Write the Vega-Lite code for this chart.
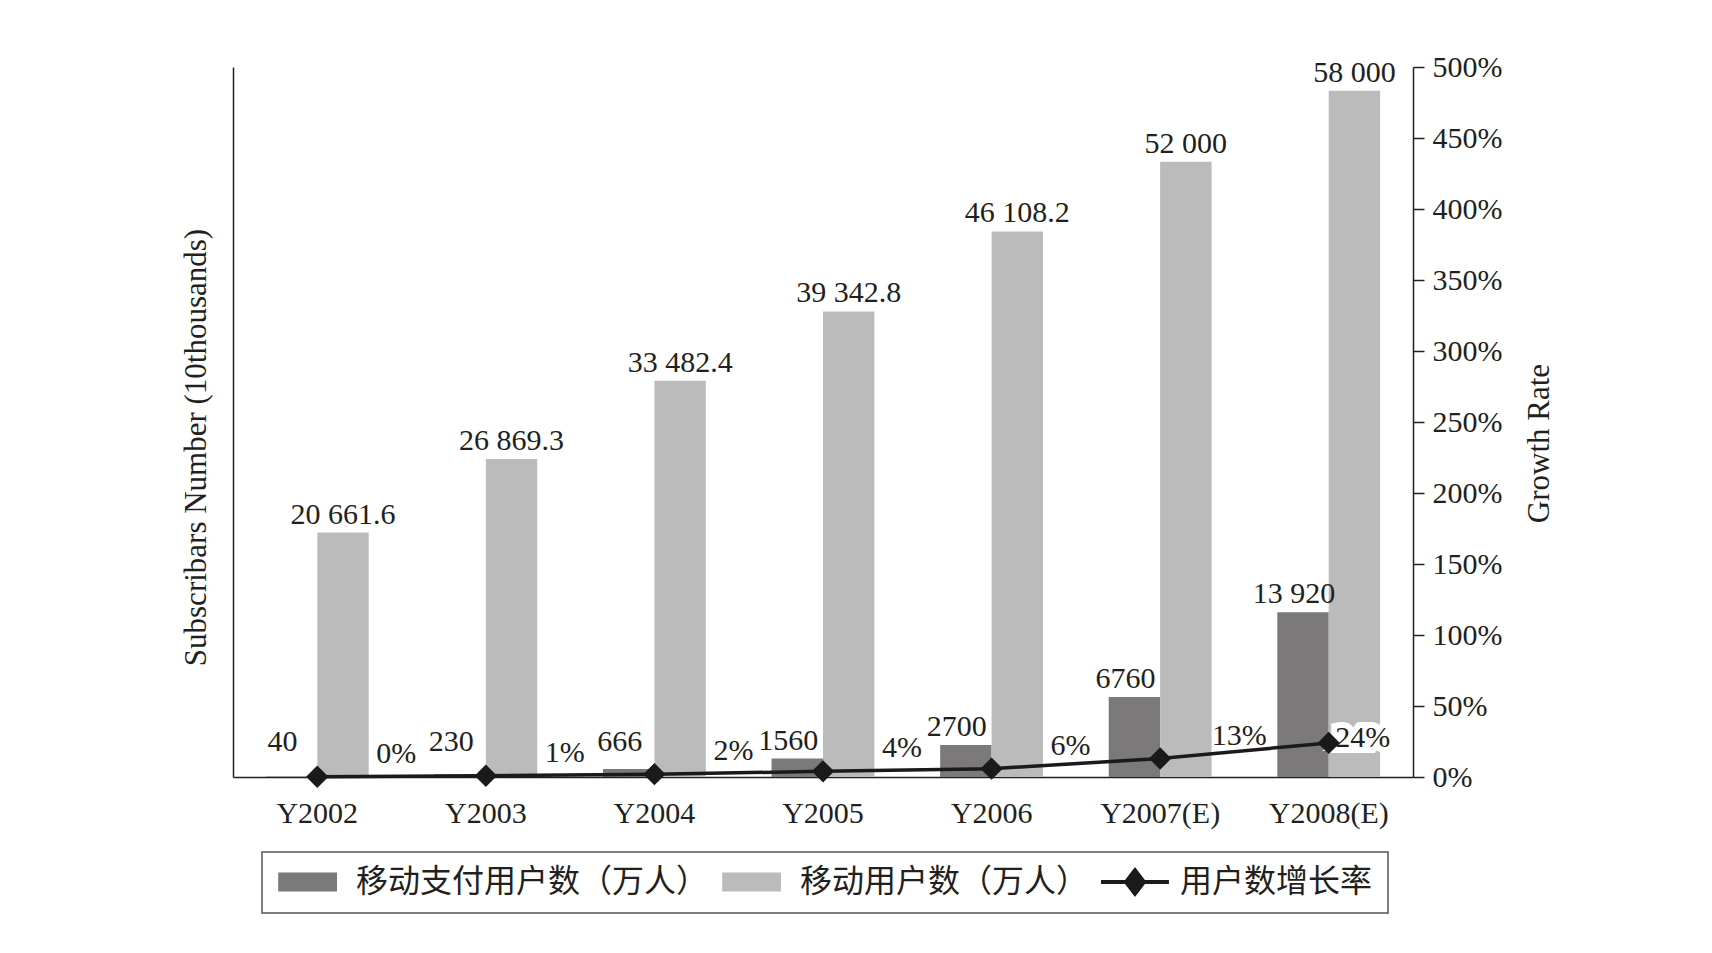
{
  "$schema": "https://vega.github.io/schema/vega-lite/v6.json",
  "width": 1180,
  "height": 710,
  "autosize": {"type": "none"},
  "padding": {"left": 233, "top": 67, "right": 299, "bottom": 176},
  "background": "white",
  "config": {
    "view": {"stroke": null},
    "font": "Liberation Serif",
    "axis": {
      "labelFont": "Liberation Serif", "titleFont": "Liberation Serif",
      "labelFontSize": 30, "titleFontSize": 31, "titleFontWeight": "normal",
      "labelColor": "#231f20", "titleColor": "#231f20",
      "domainColor": "#231f20", "tickColor": "#231f20",
      "domainWidth": 1.5, "tickWidth": 1.5, "grid": false
    },
    "legend": {
      "orient": "none", "legendX": 29, "legendY": 785,
      "direction": "horizontal", "columns": 3,
      "symbolSize": 6241, "clipHeight": 30,
      "labelFont": "Noto Sans CJK SC", "labelFontSize": 32, "labelColor": "#231f20",
      "labelOffset": 0, "labelLimit": 0, "columnPadding": 12, "padding": 15,
      "strokeColor": "#555555"
    }
  },
  "data": {"values": [
    {"year": "Y2002", "pay": 40, "mobile": 20661.6, "rate": 0.002},
    {"year": "Y2003", "pay": 230, "mobile": 26869.3, "rate": 0.0086},
    {"year": "Y2004", "pay": 666, "mobile": 33482.4, "rate": 0.0199},
    {"year": "Y2005", "pay": 1560, "mobile": 39342.8, "rate": 0.0397},
    {"year": "Y2006", "pay": 2700, "mobile": 46108.2, "rate": 0.0586},
    {"year": "Y2007(E)", "pay": 6760, "mobile": 52000, "rate": 0.13},
    {"year": "Y2008(E)", "pay": 13920, "mobile": 58000, "rate": 0.24}
  ]},
  "layer": [
    {
      "transform": [
        {"fold": ["pay", "mobile"], "as": ["series", "value"]},
        {"calculate": "datum.value >= 10000 ? replace(format(datum.value, ',~f'), ',', ' ') : format(datum.value, '~f')", "as": "lbl"}
      ],
      "encoding": {
        "x": {"field": "year", "type": "nominal", "sort": null,
              "scale": {"paddingInner": 0.39, "paddingOuter": 0.195},
              "axis": {"title": null, "ticks": false, "labelAngle": 0, "labelPadding": 21, "labelBaseline": "top"}},
        "xOffset": {"field": "series", "type": "nominal",
                    "scale": {"domain": ["pay", "mobile"], "paddingInner": 0, "paddingOuter": 0}}
      },
      "layer": [
        {
          "mark": {"type": "bar"},
          "encoding": {
            "y": {"field": "value", "type": "quantitative", "scale": {"domain": [0, 60000]},
                  "axis": {"orient": "left", "title": "Subscribars Number (10thousands)", "labels": false, "ticks": false,
                           "titleAngle": 270, "titleX": -37, "titleY": 380, "titleBaseline": "middle", "titleAlign": "center"}},
            "color": {"field": "series", "type": "nominal",
                      "scale": {"domain": ["pay", "mobile", "rate"], "range": ["#7b7979", "#bcbbbb", "#1a1a1a"]},
                      "legend": {
                        "title": null,
                        "labelExpr": "datum.value == 'pay' ? '移动支付用户数（万人）' : datum.value == 'mobile' ? '移动用户数（万人）' : '用户数增长率'",
                        "encode": {
                          "symbols": {"update": {
                            "shape": {"signal": "datum.value == 'rate' ? 'M-1,-0.05H0.72V0.05H-1Z M-0.14,-0.38L0.15,0L-0.14,0.38L-0.43,0Z' : 'M-0.97,-0.24H0.52V0.24H-0.97Z'"},
                            "fill": {"signal": "datum.value == 'pay' ? '#7b7979' : datum.value == 'mobile' ? '#bcbbbb' : '#1a1a1a'"},
                            "stroke": {"value": "transparent"},
                            "strokeWidth": {"value": 0},
                            "opacity": {"value": 1}
                          }},
                          "legend": {"update": {"strokeWidth": {"value": 1.5}}}
                        }
                      }}
          }
        },
        {
          "transform": [{"filter": "datum.series == 'pay'"}, {"calculate": "max(datum.value, 1400)", "as": "ly"}],
          "mark": {"type": "text", "dx": -9, "dy": -9, "baseline": "alphabetic", "align": "center", "fontSize": 30, "font": "Liberation Serif", "color": "#231f20"},
          "encoding": {"y": {"field": "ly", "type": "quantitative"}, "text": {"field": "lbl"}}
        },
        {
          "transform": [{"filter": "datum.series == 'mobile'"}],
          "mark": {"type": "text", "dy": -9, "baseline": "alphabetic", "align": "center", "fontSize": 30, "font": "Liberation Serif", "color": "#231f20"},
          "encoding": {"y": {"field": "value", "type": "quantitative"}, "text": {"field": "lbl"}}
        }
      ]
    },
    {
      "encoding": {
        "x": {"field": "year", "type": "nominal", "sort": null},
        "y": {"field": "rate", "type": "quantitative", "scale": {"domain": [0, 5]},
              "axis": {"orient": "right", "title": "Growth Rate", "format": ".0%", "values": [0, 0.5, 1, 1.5, 2, 2.5, 3, 3.5, 4, 4.5, 5],
                       "tickSize": 11, "labelPadding": 8,
                       "titleAngle": 270, "titleX": 126, "titleY": 376, "titleBaseline": "middle", "titleAlign": "center"}}
      },
      "layer": [
        {
          "transform": [{"filter": "datum.year == 'Y2008(E)'"}],
          "mark": {"type": "text", "dx": 34, "dy": 4, "baseline": "alphabetic", "align": "center", "fontSize": 30, "font": "Liberation Serif", "color": "white", "stroke": "white", "strokeWidth": 12, "strokeJoin": "miter"},
          "encoding": {"text": {"field": "rate", "format": ".0%"}}
        },
        {"mark": {"type": "line", "strokeWidth": 3.5}, "encoding": {"color": {"datum": "rate"}}},
        {"mark": {"type": "point", "shape": "diamond", "size": 500, "filled": true, "color": "#1a1a1a", "opacity": 1}},
        {
          "transform": [{"filter": "datum.year != 'Y2008(E)'"}],
          "mark": {"type": "text", "dx": 79, "dy": -14, "baseline": "alphabetic", "align": "center", "fontSize": 30, "font": "Liberation Serif", "color": "#231f20"},
          "encoding": {"text": {"field": "rate", "format": ".0%"}}
        },
        {
          "transform": [{"filter": "datum.year == 'Y2008(E)'"}],
          "mark": {"type": "text", "dx": 34, "dy": 4, "baseline": "alphabetic", "align": "center", "fontSize": 30, "font": "Liberation Serif", "color": "#231f20"},
          "encoding": {"text": {"field": "rate", "format": ".0%"}}
        }
      ]
    }
  ],
  "resolve": {"scale": {"y": "independent"}}
}
